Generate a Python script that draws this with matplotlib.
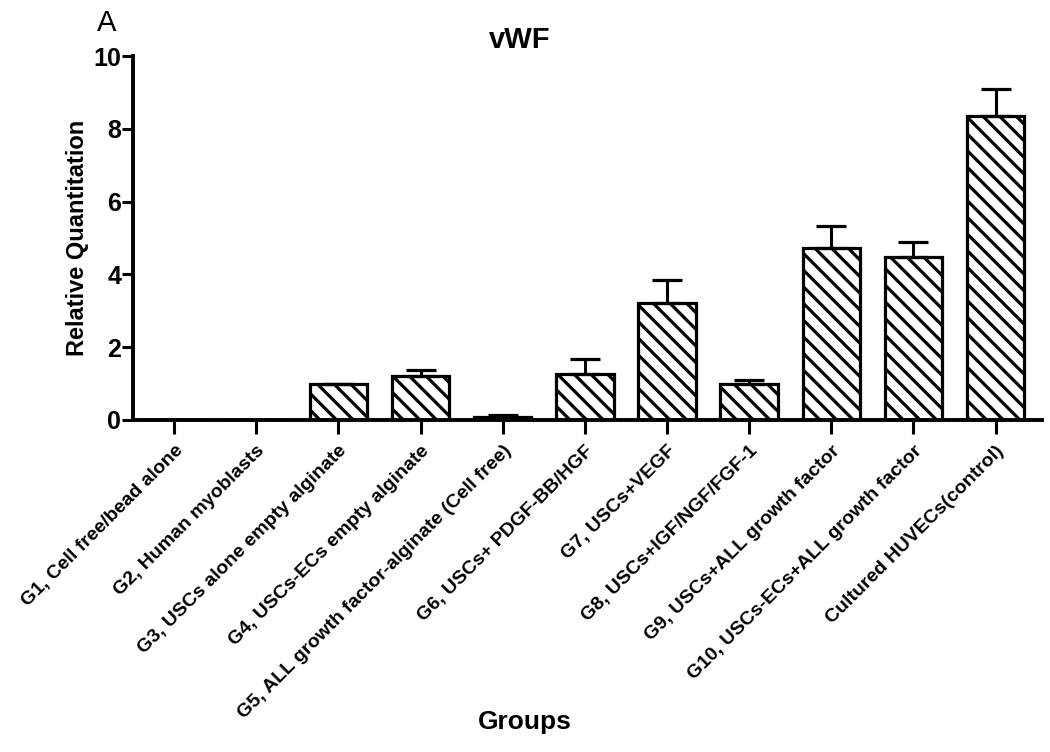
import numpy as np
import matplotlib.pyplot as plt

# Data (vWF relative quantitation)
groups = ['G1, Cell free/bead alone', 'G2, Human myoblasts',
          'G3, USCs alone empty alginate', 'G4, USCs-ECs empty alginate',
          'G5, ALL growth factor-alginate (Cell free)', 'G6, USCs+ PDGF-BB/HGF',
          'G7, USCs+VEGF', 'G8, USCs+IGF/NGF/FGF-1', 'G9, USCs+ALL growth factor',
          'G10, USCs-ECs+ALL growth factor', 'Cultured HUVECs(control)']
values = [0.0, 0.0, 1.0, 1.2, 0.09, 1.27, 3.22, 0.99, 4.73, 4.47, 8.35]
errors = [0.0, 0.0, 0.0, 0.16, 0.05, 0.4, 0.63, 0.1, 0.6, 0.42, 0.74]
yticks = [0, 2, 4, 6, 8, 10]

plt.rcParams['font.family'] = ['Liberation Sans', 'DejaVu Sans']
plt.rcParams['hatch.linewidth'] = 2.3
plt.rcParams['hatch.color'] = 'black'

fig = plt.figure(figsize=(10.5, 7.52), dpi=100)
ax = fig.add_axes([0.1267, 0.4415, 0.8653, 0.484])

x = np.arange(len(groups))
ax.bar(x, values, width=0.7, color='white', edgecolor='black',
       linewidth=2.3, hatch='\\\\', zorder=2)
ax.errorbar(x, values, yerr=[np.zeros(len(errors)), errors], fmt='none',
            ecolor='black', elinewidth=2.2, capsize=10.5, capthick=2.3, zorder=3)

ax.set_xlim(-0.5, 10.56)
ax.set_ylim(0, 10)
ax.set_yticks(yticks)
ax.set_yticklabels([str(t) for t in yticks], fontsize=18, fontweight='bold')
ax.set_xticks(x)
ax.set_xticklabels(groups, rotation=45, ha='right', rotation_mode='anchor',
                   fontsize=14, fontweight='bold')
ax.tick_params(axis='y', length=8, width=2.2, pad=0.5)
ax.tick_params(axis='x', length=10, width=2.2, pad=6)

for side in ['top', 'right']:
    ax.spines[side].set_visible(False)
for side in ['left', 'bottom']:
    ax.spines[side].set_linewidth(2.8)

ax.set_ylabel('Relative Quantitation', fontsize=17, fontweight='bold', labelpad=3)
ax.set_title('vWF', fontsize=21, fontweight='bold', pad=6, x=0.426)
fig.text(0.5, 0.04, 'Groups', ha='center', va='center', fontsize=19, fontweight='bold')
fig.text(0.102, 0.97, 'A', ha='center', va='center', fontsize=21)

fig.savefig('out.png', dpi=100)
